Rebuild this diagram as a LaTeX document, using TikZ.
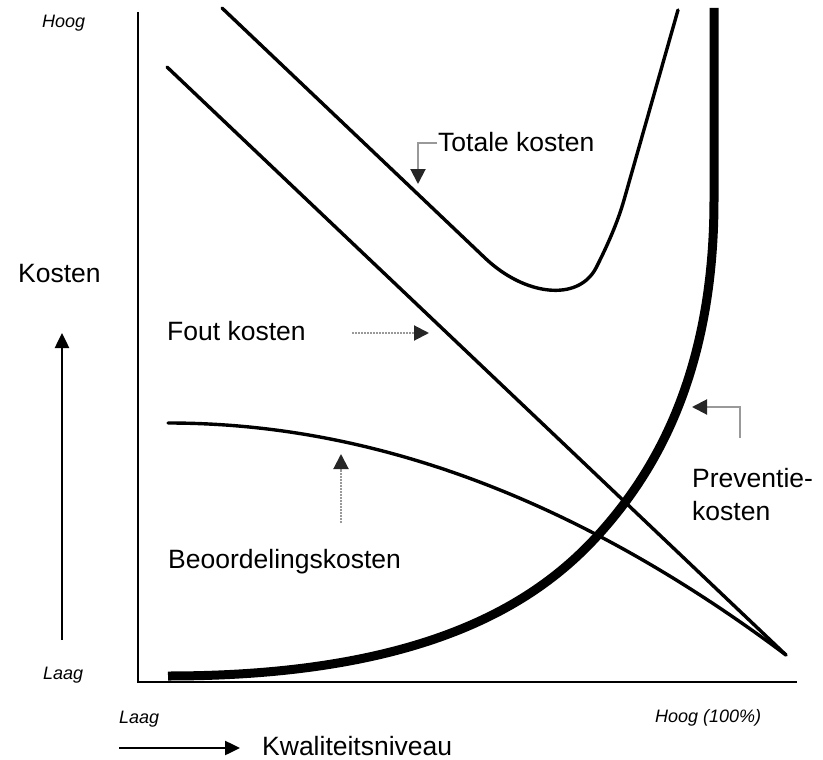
\documentclass[tikz,border=0pt]{standalone}
\usepackage{fontspec}
\setmainfont{Liberation Sans}
\usetikzlibrary{arrows.meta}
\begin{document}
\begin{tikzpicture}[x=1pt,y=-1pt,
  curve/.style={line width=3.4pt, line cap=round},
  thickcurve/.style={line width=9pt},
  axisline/.style={line width=2pt},
  lbl/.style={font=\fontsize{26.5}{33}\selectfont, inner sep=0pt, anchor=base west},
  small/.style={font=\fontsize{18}{22}\selectfont\itshape, inner sep=0pt, anchor=base west},
  bigarrow/.style={line width=2.5pt, -{Triangle[length=15pt,width=14pt]}},
  pointer/.style={line width=2pt, draw=black!40,
    -{Triangle[length=15pt,width=15pt,color=black!85,fill=black!85]}},
  dotpointer/.style={pointer, densely dotted}]
  \useasboundingbox (0,0) rectangle (823,760);

  % axes
  \coordinate (ytop) at (138,12);
  \coordinate (origin) at (138,682);
  \coordinate (xend) at (797,682);
  \draw[axisline] (ytop) -- (origin) -- (xend);

  % failure costs
  \draw[curve] (167,67) -- (786,655);
  % appraisal costs
  \draw[curve] (168,423) .. controls (374,423) and (579,500) .. (786,655);
  % total costs
  \draw[curve] (222,8) -- (485,258)
    .. controls (525,296) and (578,302) .. (596,268)
    .. controls (603,254) and (616,228) .. (624,200) -- (678,10);
  % prevention costs
  \draw[thickcurve] (168,676) .. controls (430,676) and (540,600) .. (600,533)
    .. controls (650,477) and (714,380) .. (714,200) -- (714,8);

  % axis labels
  \node[small] (hoogY) at (42,28) {Hoog};
  \node[small] (laagY) at (43,679) {Laag};
  \node[small] (laagX) at (119,723) {Laag};
  \node[small] (hoogX) at (655,722) {Hoog (100\%)};
  \node[lbl] (kosten) at (18,282) {Kosten};
  \node[lbl] (kwal) at (262,755) {Kwaliteitsniveau};

  % direction arrows
  \coordinate (yarrS) at (62,640);
  \coordinate (yarrE) at (62,333);
  \draw[bigarrow] (yarrS) -- (yarrE);
  \coordinate (xarrS) at (119,748);
  \coordinate (xarrE) at (240,748);
  \draw[bigarrow] (xarrS) -- (xarrE);

  % curve labels
  \node[lbl] (totaal) at (438,152) {Totale kosten};
  \node[lbl] (fout) at (167,340) {Fout kosten};
  \node[lbl] (prev1) at (692,487) {Preventie-};
  \node[lbl] (prev2) at (692,520) {kosten};
  \node[lbl] (beoord) at (168,568) {Beoordelingskosten};

  % pointers to the curves
  \coordinate (totTip) at (418,184);
  \draw[pointer] ([xshift=-1pt]totaal.west) -| (totTip);
  \coordinate (foutS) at (352,333);
  \coordinate (foutTip) at (429,333);
  \draw[dotpointer] (foutS) -- (foutTip);
  \coordinate (prevS) at (740,438);
  \coordinate (prevTip) at (692,407);
  \draw[pointer] (prevS) |- (prevTip);
  \coordinate (beoS) at (341,523);
  \coordinate (beoTip) at (341,454);
  \draw[dotpointer] (beoS) -- (beoTip);
\end{tikzpicture}
\end{document}
